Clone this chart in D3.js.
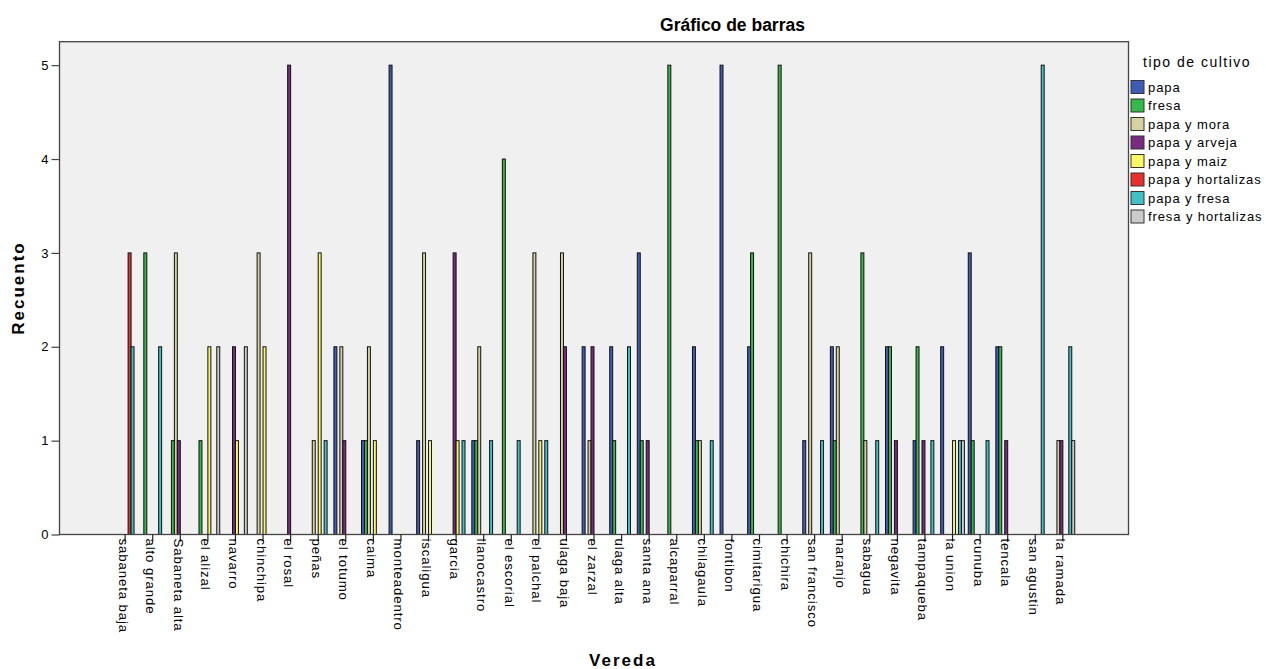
<!DOCTYPE html>
<html>
<head>
<meta charset="utf-8">
<script src="https://cdn.jsdelivr.net/npm/d3@7"></script>
<style>
  body { margin: 0; background: #fff; }
  text { font-family: "Liberation Sans", Arial, sans-serif; fill: #000; }
</style>
</head>
<body>
<div class="chart"></div>
<script>
var svgWidth = 1266;
var svgHeight = 669;

// plot box
var plot = { left: 59.5, right: 1128.5, top: 41.7, bottom: 534.5 };

// data
var veredas = ["sabaneta baja", "alto grande", "Sabaneta alta", "el alizal", "navarro",
  "chinchipa", "el rosal", "peñas", "el totumo", "caima", "monteadentro", "iscaligua",
  "garcia", "llanocastro", "el escorial", "el palchal", "ulaga baja", "el zarzal",
  "ulaga alta", "santa ana", "alcaparral", "chilagaula", "fontibon", "cimitarigua",
  "chichira", "san francisco", "naranjo", "sabagua", "negavita", "tampaqueba",
  "la union", "cunuba", "tencala", "san agustin", "la ramada"];

var cultivos = ["papa", "fresa", "papa y mora", "papa y arveja", "papa y maiz",
  "papa y hortalizas", "papa y fresa", "fresa y hortalizas"];

var colores = ["#3e5cb6", "#36b94a", "#d6d1a0", "#7b2a82", "#fbf863", "#ea2f2f", "#43bfc6", "#cbcbcb"];

var papa        = [0,0,0,0,0,0,0,0,2,1,5,1,0,1,0,0,0,2,2,3,0,2,5,2,0,1,2,0,2,1,2,3,2,0,0];
var fresa       = [0,3,1,1,0,0,0,0,0,1,0,0,0,1,4,0,0,0,1,1,5,1,0,3,5,0,1,3,2,2,0,1,2,0,0];
var papaMora    = [0,0,3,0,0,3,0,1,2,2,0,3,0,2,0,3,3,1,0,0,0,1,0,0,0,3,2,1,0,0,0,0,0,0,1];
var papaArveja  = [0,0,1,0,2,0,5,0,1,0,0,0,3,0,0,0,2,2,0,1,0,0,0,0,0,0,0,0,1,1,0,0,1,0,1];
var papaMaiz    = [0,0,0,2,1,2,0,3,0,1,0,1,1,0,0,1,0,0,0,0,0,0,0,0,0,0,0,0,0,0,1,0,0,0,0];
var papaHort    = [3,0,0,0,0,0,0,0,0,0,0,0,0,0,0,0,0,0,0,0,0,0,0,0,0,0,0,0,0,0,0,0,0,0,0];
var papaFresa   = [2,2,0,0,0,0,0,1,0,0,0,0,1,1,1,1,0,0,2,0,0,1,0,0,0,1,0,1,0,1,1,1,0,5,2];
var fresaHort   = [0,0,0,2,2,0,0,0,0,0,0,0,0,0,0,0,0,0,0,0,0,0,0,0,0,0,0,0,0,0,1,0,0,0,1];

var yTicks = [0, 1, 2, 3, 4, 5];

var series = [papa, fresa, papaMora, papaArveja, papaMaiz, papaHort, papaFresa, fresaHort];

// flatten to one record per bar
var bars = [];
series.forEach(function(vals, s) {
  vals.forEach(function(v, i) {
    if (v > 0) bars.push({ vereda: veredas[i], cultivo: cultivos[s], value: v, color: colores[s] });
  });
});

var svg = d3.select(".chart")
  .append("svg")
  .attr("width", svgWidth)
  .attr("height", svgHeight);

// scales
var x0 = d3.scaleBand()
  .domain(veredas)
  .range([plot.left, plot.right])
  .paddingInner(0.14)
  .paddingOuter(1.95);

var x1 = d3.scaleBand()
  .domain(cultivos)
  .range([0, x0.bandwidth()]);

var yScale = d3.scaleLinear()
  .domain([0, 5.25])
  .range([plot.bottom, plot.top]);

// background
svg.append("rect")
  .attr("x", plot.left)
  .attr("y", plot.top)
  .attr("width", plot.right - plot.left)
  .attr("height", plot.bottom - plot.top)
  .attr("fill", "#f0f0f0");

// bars
svg.append("g").selectAll("rect")
  .data(bars)
  .enter()
  .append("rect")
  .attr("x", d => x0(d.vereda) + x1(d.cultivo))
  .attr("y", d => yScale(d.value))
  .attr("width", x1.bandwidth())
  .attr("height", d => yScale(0) - yScale(d.value))
  .attr("fill", d => d.color)
  .attr("stroke", "#111")
  .attr("stroke-width", 1);

// frame
svg.append("rect")
  .attr("x", plot.left)
  .attr("y", plot.top)
  .attr("width", plot.right - plot.left)
  .attr("height", plot.bottom - plot.top)
  .attr("fill", "none")
  .attr("stroke", "#444")
  .attr("stroke-width", 1.3);

// y axis
var yAxis = d3.axisLeft(yScale)
  .tickValues(yTicks)
  .tickFormat(d3.format("d"))
  .tickSize(8)
  .tickPadding(3);

var gy = svg.append("g")
  .attr("transform", `translate(${plot.left}, 0)`)
  .call(yAxis);
gy.select(".domain").remove();
gy.selectAll("line").attr("stroke", "#444").attr("stroke-width", 1.2);
gy.selectAll("text")
  .style("font-size", "13px")
  .style("font-family", "Liberation Sans, Arial, sans-serif")
  .attr("fill", "#000");

// x axis
var xAxis = d3.axisBottom(x0)
  .tickSize(7)
  .tickSizeOuter(0)
  .tickPadding(0);

var gx = svg.append("g")
  .attr("transform", `translate(0, ${plot.bottom})`)
  .call(xAxis);
gx.select(".domain").remove();
gx.selectAll("line").attr("stroke", "#222").attr("stroke-width", 1.2);
gx.selectAll("text")
  .attr("transform", "rotate(90)")
  .attr("x", 4)
  .attr("y", 6.5)
  .attr("dy", 0)
  .attr("text-anchor", "start")
  .style("font-size", "13.3px")
  .style("letter-spacing", "0.85px")
  .style("font-family", "Liberation Sans, Arial, sans-serif")
  .attr("fill", "#000");

// title
svg.append("text")
  .attr("x", 732.5)
  .attr("y", 31)
  .attr("text-anchor", "middle")
  .style("font-size", "17.5px")
  .style("font-weight", "bold")
  .text("Gráfico de barras");

// axis titles
svg.append("text")
  .attr("x", 623)
  .attr("y", 666)
  .attr("text-anchor", "middle")
  .style("font-size", "17px")
  .style("font-weight", "bold")
  .style("letter-spacing", "2px")
  .text("Vereda");

svg.append("text")
  .attr("transform", "translate(24, 288) rotate(-90)")
  .attr("text-anchor", "middle")
  .style("font-size", "17px")
  .style("font-weight", "bold")
  .style("letter-spacing", "2px")
  .text("Recuento");

// legend
var legend = svg.append("g").attr("transform", "translate(1131, 0)");

legend.append("text")
  .attr("x", 12)
  .attr("y", 67)
  .style("font-size", "14px")
  .style("letter-spacing", "1.5px")
  .text("tipo de cultivo");

var items = legend.selectAll(".item")
  .data(cultivos)
  .enter()
  .append("g")
  .attr("class", "item")
  .attr("transform", (d, i) => `translate(0, ${80.5 + i * 18.5})`);

items.append("rect")
  .attr("width", 13)
  .attr("height", 13)
  .attr("fill", (d, i) => colores[i])
  .attr("stroke", "#333")
  .attr("stroke-width", 1);

items.append("text")
  .attr("x", 17)
  .attr("y", 11)
  .style("font-size", "13px")
  .style("letter-spacing", "0.9px")
  .text(d => d);
</script>
</body>
</html>
